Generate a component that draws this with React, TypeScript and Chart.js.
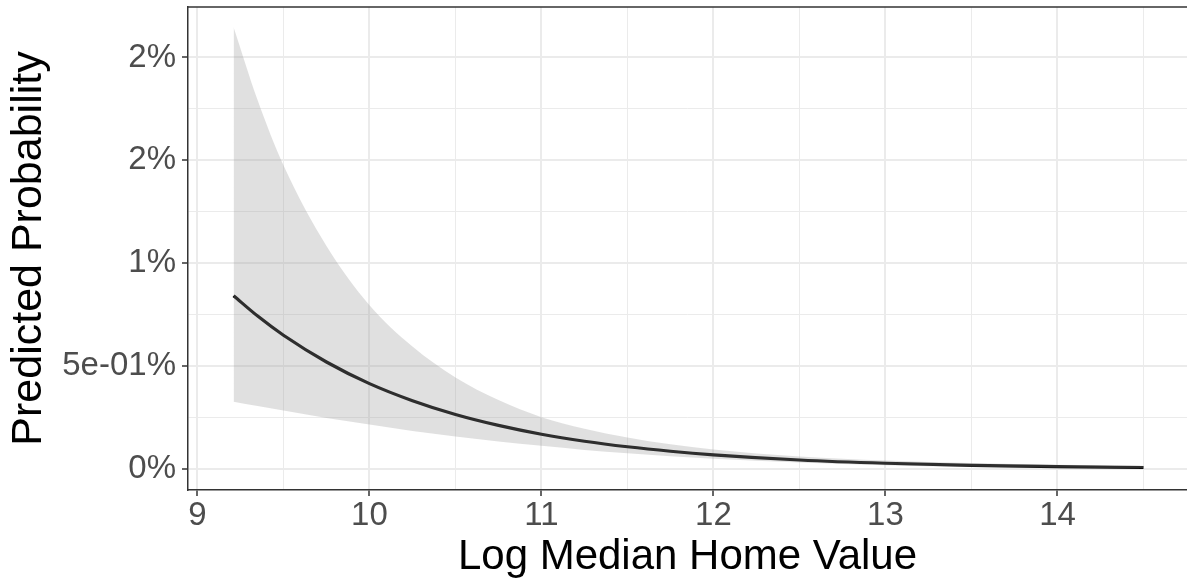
import React, { useEffect, useRef } from 'react';
import { Chart, registerables } from 'chart.js';

Chart.register(...registerables);

// Log median home value (x) and predicted probability in percent
const X_VALUES = [9.21, 9.35, 9.5, 9.75, 10, 10.25, 10.5, 10.75, 11, 11.25, 11.5, 11.75, 12, 12.5, 13, 13.5, 14, 14.5];
const FIT = [0.842, 0.743, 0.650, 0.520, 0.415, 0.332, 0.265, 0.212, 0.169, 0.135, 0.108, 0.0863, 0.0689, 0.0439, 0.0280, 0.0178, 0.0114, 0.0073];
const UPPER = [2.147, 1.792, 1.476, 1.084, 0.796, 0.595, 0.445, 0.335, 0.252, 0.196, 0.153, 0.120, 0.0948, 0.0610, 0.0418, 0.0293, 0.0211, 0.0154];
const LOWER = [0.327, 0.306, 0.284, 0.248, 0.216, 0.185, 0.158, 0.134, 0.113, 0.0929, 0.0761, 0.0617, 0.0500, 0.0316, 0.0188, 0.0108, 0.0061, 0.0034];

const X_MAJOR = [9, 10, 11, 12, 13, 14];
const X_LABELS = ['9', '10', '11', '12', '13', '14'];
const X_MINOR = [9.5, 10.5, 11.5, 12.5, 13.5, 14.5];

const Y_MAJOR = [0, 0.5, 1, 1.5, 2];
const Y_LABELS = ['0%', '5e-01%', '1%', '2%', '2%'];
const Y_MINOR = [0.25, 0.75, 1.25, 1.75];

const X_TITLE = 'Log Median Home Value';
const Y_TITLE = 'Predicted Probability';

const FONT = "'Liberation Sans', Arial, Helvetica, sans-serif";

function isMajor(list: number[], v: number) {
  return list.some((m) => Math.abs(m - v) < 1e-9);
}

export default function App() {
  const ref = useRef<HTMLCanvasElement | null>(null);

  useEffect(() => {
    if (!ref.current) return;
    const pts = (ys: number[]) => X_VALUES.map((x, i) => ({ x, y: ys[i] }));

    const topBorder = {
      id: 'topBorder',
      afterDraw(chart: any) {
        const { ctx, chartArea } = chart;
        ctx.save();
        ctx.strokeStyle = '#333333';
        ctx.lineWidth = 1.5;
        ctx.beginPath();
        ctx.moveTo(chartArea.left, chartArea.top);
        ctx.lineTo(chartArea.right + 2, chartArea.top);
        ctx.stroke();
        ctx.restore();
      },
    };

    const chart = new Chart(ref.current, {
      type: 'line',
      data: {
        datasets: [
          {
            label: 'lower',
            data: pts(LOWER),
            borderWidth: 0,
            borderColor: 'rgba(0,0,0,0)',
            pointRadius: 0,
            fill: false,
            cubicInterpolationMode: 'monotone',
          },
          {
            label: 'upper',
            data: pts(UPPER),
            borderWidth: 0,
            borderColor: 'rgba(0,0,0,0)',
            backgroundColor: 'rgba(153,153,153,0.3)',
            pointRadius: 0,
            fill: '-1',
            cubicInterpolationMode: 'monotone',
          },
          {
            label: 'fit',
            data: pts(FIT),
            borderWidth: 3.2,
            borderColor: '#000000',
            pointRadius: 0,
            fill: false,
            cubicInterpolationMode: 'monotone',
          },
        ],
      },
      options: {
        animation: false,
        responsive: false,
        maintainAspectRatio: false,
        devicePixelRatio: 1,
        layout: { padding: { top: 7, left: 0, right: 0, bottom: 0 } },
        plugins: {
          legend: { display: false },
          tooltip: { enabled: false },
        },
        scales: {
          x: {
            type: 'linear',
            min: 8.945,
            max: 14.753,
            afterFit: (scale: any) => {
              scale.height = 93;
              scale.paddingLeft = 0;
              scale.paddingRight = 0;
            },
            afterBuildTicks: (scale: any) => {
              const all = [...X_MAJOR, ...X_MINOR].sort((a, b) => a - b);
              scale.ticks = all.map((v) => ({ value: v }));
            },
            ticks: {
              autoSkip: false,
              maxRotation: 0,
              padding: 0,
              color: '#4d4d4d',
              font: { family: FONT, size: 33 },
              callback: (v: any) => {
                const i = X_MAJOR.findIndex((m) => Math.abs(m - Number(v)) < 1e-9);
                return i >= 0 ? X_LABELS[i] : '';
              },
            },
            grid: {
              color: '#ebebeb',
              lineWidth: (ctx: any) => (ctx.tick && isMajor(X_MAJOR, ctx.tick.value) ? 2 : 1),
              tickColor: (ctx: any) => (ctx.tick && isMajor(X_MAJOR, ctx.tick.value) ? '#333333' : 'rgba(0,0,0,0)'),
              tickLength: 6,
              tickWidth: 1.5,
              drawTicks: true,
            },
            border: { display: true, color: '#333333', width: 1.5 },
            title: {
              display: true,
              text: X_TITLE,
              color: '#000000',
              font: { family: FONT, size: 42 },
              padding: { top: 0, bottom: 0 },
            },
          },
          y: {
            type: 'linear',
            min: -0.102,
            max: 2.245,
            afterFit: (scale: any) => {
              scale.width = 188;
              scale.paddingTop = 0;
              scale.paddingBottom = 0;
            },
            afterBuildTicks: (scale: any) => {
              const all = [...Y_MAJOR, ...Y_MINOR].sort((a, b) => a - b);
              scale.ticks = all.map((v) => ({ value: v }));
            },
            ticks: {
              autoSkip: false,
              padding: 6,
              color: '#4d4d4d',
              font: { family: FONT, size: 33 },
              callback: (v: any) => {
                const i = Y_MAJOR.findIndex((m) => Math.abs(m - Number(v)) < 1e-9);
                return i >= 0 ? Y_LABELS[i] : '';
              },
            },
            grid: {
              color: '#ebebeb',
              lineWidth: (ctx: any) => (ctx.tick && isMajor(Y_MAJOR, ctx.tick.value) ? 2 : 1),
              tickColor: (ctx: any) => (ctx.tick && isMajor(Y_MAJOR, ctx.tick.value) ? '#333333' : 'rgba(0,0,0,0)'),
              tickLength: 6,
              tickWidth: 1.5,
              drawTicks: true,
            },
            border: { display: true, color: '#333333', width: 1.5 },
            title: {
              display: true,
              text: Y_TITLE,
              color: '#000000',
              font: { family: FONT, size: 43 },
              padding: { top: 3, bottom: 0 },
            },
          },
        },
      },
      plugins: [topBorder],
    } as any);

    return () => {
      chart.destroy();
    };
  }, []);

  return (
    <div style={{ position: 'absolute', left: 0, top: 0, width: 1187, height: 583, background: '#ffffff' }}>
      <canvas ref={ref} width={1187} height={583} style={{ width: 1187, height: 583, display: 'block' }} />
    </div>
  );
}
